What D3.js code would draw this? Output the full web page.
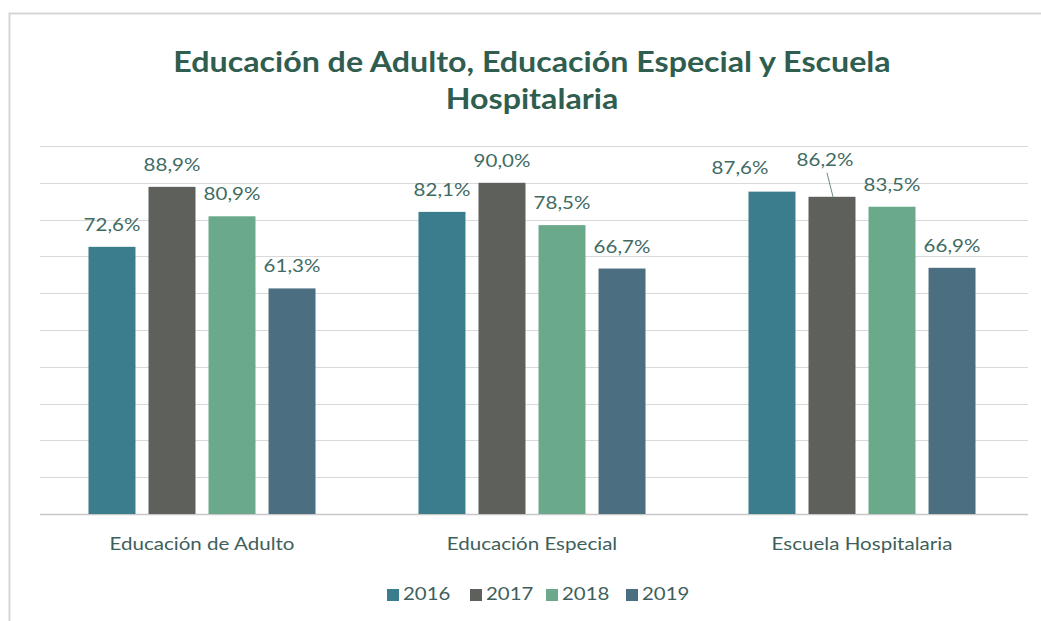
<!DOCTYPE html>
<html><head><meta charset="utf-8">
<script src="https://cdn.jsdelivr.net/npm/d3@7"></script>
<style>
html,body{margin:0;padding:0;background:#fff;}
text{font-family:Lato,"Open Sans",sans-serif;}
</style></head>
<body>
<svg id="chart" width="1041" height="621"></svg>
<script>
const categories = ["Educación de Adulto", "Educación Especial", "Escuela Hospitalaria"];
const years = ["2016", "2017", "2018", "2019"];
const values2016 = [72.6, 82.1, 87.6];
const values2017 = [88.9, 90.0, 86.2];
const values2018 = [80.9, 78.5, 83.5];
const values2019 = [61.3, 66.7, 66.9];
const yTicks = [0,10,20,30,40,50,60,70,80,90,100];
const titleLines = ["Educación de Adulto, Educación Especial y Escuela", "Hospitalaria"];

const series = [values2016, values2017, values2018, values2019];
const colors = ["#3b7c8d", "#5e605b", "#6aaa8a", "#4b6f80"];
// layout: manual label placements in the original (px, [series][category])
const labelShift = {
  "0-2": [-32, -18],
  "1-2": [-7, -31]
};

const svg = d3.select("#chart");
const W = 1041, H = 621;
const m = {left: 37, right: 14, top: 146, bottom: 107};

// horizontally stretched text helper (emulates the wide rendering of the original)
function stext(sel, x, y, sx) {
  return sel.attr("transform", `translate(${x},${y}) scale(${sx},1)`);
}

// outer border
svg.append("path").attr("d", `M9.5,${H} V13.5 H${W}`)
  .attr("fill","none").attr("stroke","#d6d6d6").attr("stroke-width",2);

const x0 = d3.scaleBand().domain(categories).range([m.left, W - m.right]).paddingInner(0).paddingOuter(0);
const x1 = d3.scaleBand().domain(years).range([0, x0.bandwidth()]).paddingInner(0.217).paddingOuter(0.858);
const y = d3.scaleLinear().domain([0,100]).range([H - m.bottom, m.top]);

// gridlines
svg.append("g").selectAll("line").data(yTicks).join("line")
  .attr("x1", 40).attr("x2", 1028)
  .attr("y1", d => Math.round(y(d)) + 0.5).attr("y2", d => Math.round(y(d)) + 0.5)
  .attr("stroke", d => d === 0 ? "#c8c8c8" : "#d9d9d9").attr("stroke-width", d => d===0?1.5:1.2);

// title
svg.append("g").selectAll("text").data(titleLines).join("text")
  .each(function(d,i){ stext(d3.select(this), 532, 72 + i*37, 1.11); })
  .attr("text-anchor","middle").attr("font-size", 29).attr("font-weight", 700)
  .attr("fill", "#2f5d4f").text(d => d);

// bars
const gs = svg.append("g").selectAll("g").data(categories).join("g")
  .attr("transform", d => `translate(${x0(d)},0)`);
gs.each(function(cat, ci){
  const g = d3.select(this);
  years.forEach((yr, si) => {
    const v = series[si][ci];
    const cx = x1(yr) + x1.bandwidth()/2;
    g.append("rect")
      .attr("x", x1(yr)).attr("width", x1.bandwidth())
      .attr("y", y(v)).attr("height", y(0) - y(v))
      .attr("fill", colors[si]);
    const sh = labelShift[si + "-" + ci] || [0, -16];
    const t = g.append("text")
      .attr("text-anchor","middle").attr("font-size", 18).attr("fill","#3f6b63")
      .text(v.toFixed(1).replace(".", ",") + "%");
    stext(t, cx + sh[0], y(v) + sh[1], 1.14);
    if (si===1 && ci===2) {
      g.append("line")
        .attr("x1", cx - 5).attr("y1", y(v) - 24)
        .attr("x2", cx + 1).attr("y2", y(v))
        .attr("stroke", "#6d8a85").attr("stroke-width", 1);
    }
  });
});

// category axis labels
svg.append("g").selectAll("text").data(categories).join("text")
  .each(function(d){ stext(d3.select(this), x0(d) + x0.bandwidth()/2, 550, 1.21); })
  .attr("text-anchor","middle").attr("font-size", 17).attr("fill","#3e5f5b")
  .text(d => d);

// legend
const legX = [386, 469, 545, 625];
const leg = svg.append("g").selectAll("g").data(years).join("g")
  .attr("transform", (d,i) => `translate(${legX[i]},0)`);
leg.append("rect").attr("x",1).attr("y",589).attr("width",12).attr("height",12)
  .attr("fill",(d,i)=>colors[i]);
leg.append("text").each(function(){ stext(d3.select(this), 17, 600, 1.2); })
  .attr("font-size",17).attr("fill","#3e5f5b").text(d=>d);
</script>
</body></html>
